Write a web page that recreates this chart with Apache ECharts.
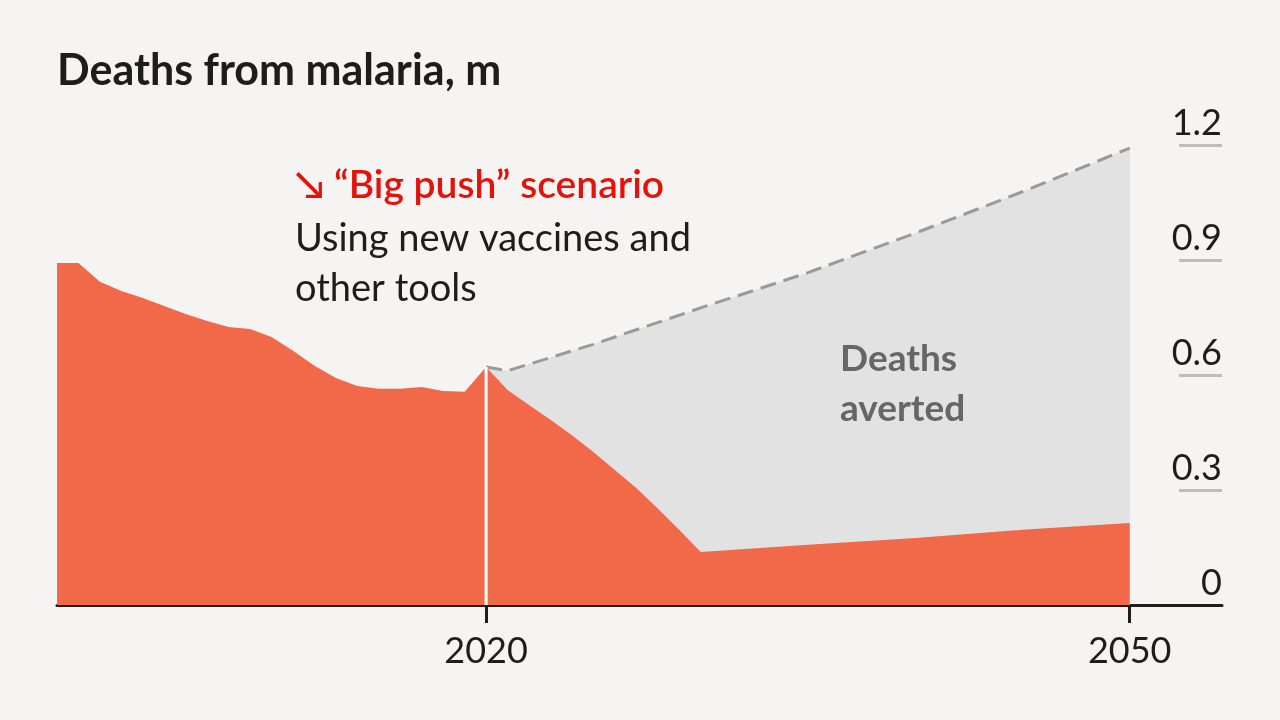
<!DOCTYPE html>
<html><head><meta charset="utf-8">
<script src="https://cdn.jsdelivr.net/npm/echarts@6/dist/echarts.min.js"></script>
<style>html,body{margin:0;padding:0;background:#f5f4f2;}#c{width:1280px;height:720px;}</style>
</head><body><div id="c"></div>
<script>
// Historical deaths, then "big push" projection (millions)
const histYears = [2000,2001,2002,2003,2004,2005,2006,2007,2008,2009,2010,2011,2012,2013,2014,2015,2016,2017,2018,2019,2020];
const histValues = [0.892,0.892,0.843,0.819,0.801,0.780,0.759,0.741,0.725,0.720,0.699,0.663,0.624,0.592,0.571,0.564,0.564,0.569,0.558,0.556,0.621];
const pushYears = [2021,2022,2023,2024,2025,2026,2027,2028,2029,2030,2035,2040,2045,2050];
const pushValues = [0.561,0.522,0.483,0.443,0.399,0.352,0.305,0.252,0.196,0.138,0.157,0.175,0.196,0.214];
// Business-as-usual projection (dashed)
const bauYears = [2020,2021,2025,2030,2035,2040,2045,2050];
const bauValues = [0.621,0.611,0.680,0.775,0.867,0.970,1.078,1.192];
const yTicks = [0,0.3,0.6,0.9,1.2];
const yTickLabels = ['0','0.3','0.6','0.9','1.2'];
const xTicks = [2020,2050];
const markerYear = 2020;

const orange = '#f2694a', grey = '#e2e2e2', ink = '#1d1d1b';
const pair = (xs, vs) => xs.map((x,i)=>[x, vs[i]]);
const orangeData = pair(histYears, histValues).concat(pair(pushYears, pushValues));
const markerValue = histValues[histYears.indexOf(markerYear)];

const chart = echarts.init(document.getElementById('c'));
const font = 'Lato';
chart.setOption({
  backgroundColor: '#f5f4f2',
  animation: false,
  grid: {left: 57, right: 58, top: 145, bottom: 115},
  xAxis: {
    type: 'value', min: 2000, max: 2054.3,
    splitLine: {show: false},
    axisLine: {show: true, lineStyle: {color: ink, width: 3}},
    axisTick: {show: true, customValues: xTicks, length: 18, lineStyle: {color: ink, width: 3}},
    axisLabel: {show: true, customValues: xTicks, formatter: v => String(v), color: ink, fontFamily: font, fontSize: 36, margin: 28}
  },
  yAxis: {
    type: 'value', min: 0, max: 1.2, interval: 0.3, position: 'right',
    axisLine: {show: false}, axisTick: {show: false}, splitLine: {show: false},
    axisLabel: {inside: true, margin: 0, color: ink, fontFamily: font, fontSize: 36,
      verticalAlign: 'bottom', padding: [0,0,4,0],
      formatter: v => { const i = yTicks.findIndex(t => Math.abs(t - v) < 1e-6); return i >= 0 ? yTickLabels[i] : ''; }}
  },
  series: [
    {
      type: 'line', data: pair(bauYears, bauValues), symbol: 'none', z: 1,
      lineStyle: {color: '#9a9a9a', width: 3, type: [16, 8]},
      areaStyle: {color: grey, opacity: 1}
    },
    {
      type: 'line', data: orangeData, symbol: 'none', z: 2,
      lineStyle: {width: 0}, areaStyle: {color: orange, opacity: 1}
    },
    {
      type: 'line', data: [[markerYear, 0], [markerYear, markerValue]], symbol: 'none', z: 3,
      lineStyle: {color: '#ffffff', width: 3}
    },
    {
      type: 'line', data: [], z: 4,
      markLine: {
        silent: true, symbol: 'none', label: {show: false},
        lineStyle: {color: '#bdbdbd', width: 3, type: 'solid'},
        data: yTicks.filter(t => t > 0).map(t => [{coord: [2052.3, t]}, {coord: [2054.3, t]}])
      }
    }
  ],
  graphic: [
    {type: 'text', id: 't1', z: 100, left: 57, top: 50, style: {text: 'Deaths from malaria, m', font: 'bold 43px ' + font, fill: ink}},
    {type: 'text', id: 't2', z: 100, left: 295, top: 166, style: {text: '\u2198 \u201cBig push\u201d scenario', font: '600 39px ' + font, fill: '#e3120b'}},
    {type: 'text', id: 't3', z: 100, left: 295, top: 214, style: {text: 'Using new vaccines and\nother tools', font: '38px ' + font, fill: ink, lineHeight: 50}},
    {type: 'text', id: 't4', z: 100, left: 840, top: 334, style: {text: 'Deaths\naverted', font: 'bold 37px ' + font, fill: '#666666', lineHeight: 50}}
  ]
});
</script></body></html>
